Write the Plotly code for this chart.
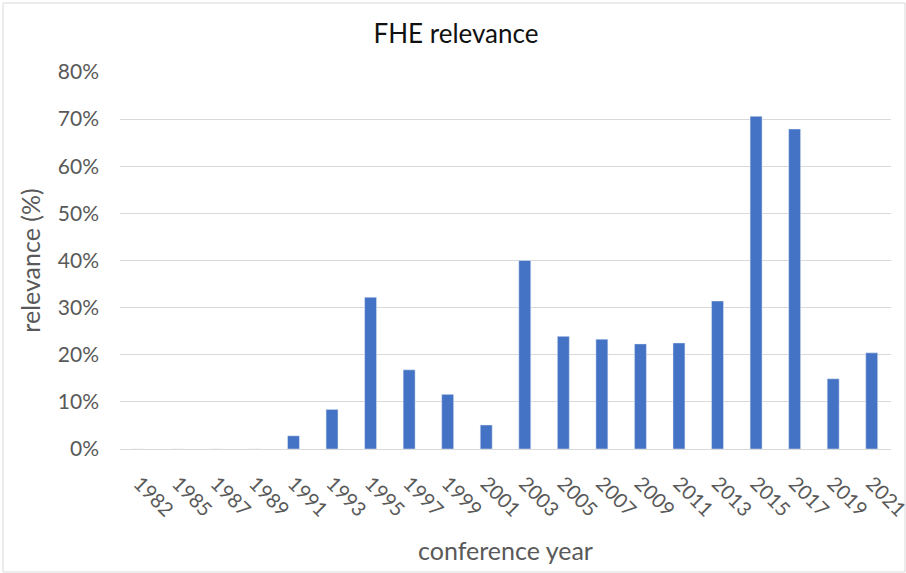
import plotly.graph_objects as go

years = ["1982", "1985", "1987", "1989", "1991", "1993", "1995", "1997", "1999", "2001",
         "2003", "2005", "2007", "2009", "2011", "2013", "2015", "2017", "2019", "2021"]
relevance = [0.0, 0.0, 0.0, 0.0, 0.028, 0.084, 0.322, 0.168, 0.116, 0.051,
             0.400, 0.239, 0.233, 0.223, 0.225, 0.314, 0.706, 0.679, 0.149, 0.204]
y_ticks = [0, 0.1, 0.2, 0.3, 0.4, 0.5, 0.6, 0.7, 0.8]

W, H = 906, 573
L, R, T, B = 120, 15, 72, 124
pw = W - L - R
ph = H - T - B

fig = go.Figure(go.Bar(x=years, y=relevance, marker_color="#4472C4", width=0.31))

fig.update_layout(
    width=W, height=H,
    margin=dict(l=L, r=R, t=T, b=B, autoexpand=False),
    paper_bgcolor="white", plot_bgcolor="white",
    font=dict(family="Lato, Liberation Sans, sans-serif", color="#595959", size=21),
    title=dict(text="FHE relevance", x=456 / W, xref="container", xanchor="center",
               y=1 - 34 / H, yanchor="middle", font=dict(size=26, color="#111111")),
    showlegend=False,
    bargap=0.69,
)
fig.update_xaxes(type="category", tickangle=45, showgrid=False, showline=True,
                 linecolor="#d9d9d9", linewidth=1, ticks="", automargin=False,
                 ticklabelstandoff=14,
                 tickfont=dict(size=20, color="#595959"),
                 title=dict(text="conference year", font=dict(size=25, color="#595959"), standoff=22))
fig.update_yaxes(range=[0, 0.8], tickvals=y_ticks, tickformat=".0%", showgrid=True,
                 gridcolor="#d9d9d9", gridwidth=1, zeroline=False, showline=False,
                 ticks="", ticklabelstandoff=20, automargin=False,
                 tickfont=dict(size=21, color="#595959"),
                 title=dict(text="relevance (%)", font=dict(size=25, color="#595959"), standoff=10))

# chart border
fig.add_shape(type="rect", xref="paper", yref="paper",
              x0=(3 - L) / pw, x1=(W - 1 - L) / pw,
              y0=(H - (H - 1) - B) / ph, y1=(H - 3 - B) / ph,
              line=dict(color="#d9d9d9", width=1), fillcolor="rgba(0,0,0,0)", layer="below")

fig.write_html("out.html")
